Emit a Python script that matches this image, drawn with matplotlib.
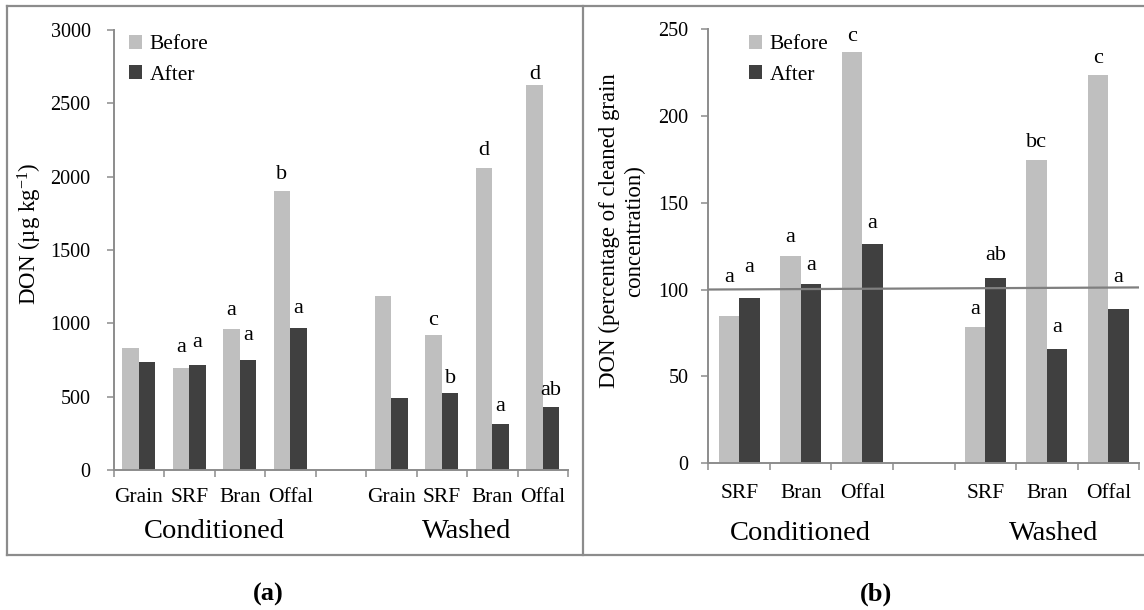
import matplotlib
matplotlib.use("Agg")
import matplotlib.pyplot as plt
from matplotlib.lines import Line2D
from matplotlib import transforms

plt.rcParams['font.family'] = ['Liberation Serif', 'DejaVu Serif']
plt.rcParams['mathtext.fontset'] = 'custom'
plt.rcParams['mathtext.rm'] = 'Liberation Serif'
plt.rcParams['mathtext.it'] = 'Liberation Serif:italic'

# ---------------- data: panel (a) ----------------
a_categories = ["Grain", "SRF", "Bran", "Offal"]
a_groups = ["Conditioned", "Washed"]
a_cond_before = [830, 695, 958, 1902]
a_cond_after = [738, 715, 751, 968]
a_wash_before = [1183, 923, 2056, 2624]
a_wash_after = [492, 524, 315, 431]
a_cond_before_lbl = ["", "a", "a", "b"]
a_cond_after_lbl = ["", "a", "a", "a"]
a_wash_before_lbl = ["", "c", "d", "d"]
a_wash_after_lbl = ["", "b", "a", "ab"]
a_yticks = [0, 500, 1000, 1500, 2000, 2500, 3000]

# ---------------- data: panel (b) ----------------
b_categories = ["SRF", "Bran", "Offal"]
b_groups = ["Conditioned", "Washed"]
b_cond_before = [84.7, 119.5, 237]
b_cond_after = [95, 103, 126.5]
b_wash_before = [78.3, 174.5, 223.5]
b_wash_after = [106.5, 65.5, 88.8]
b_cond_before_lbl = ["a", "a", "c"]
b_cond_after_lbl = ["a", "a", "a"]
b_wash_before_lbl = ["a", "bc", "c"]
b_wash_after_lbl = ["ab", "a", "a"]
b_yticks = [0, 50, 100, 150, 200, 250]
b_ref_line = [100, 101.2]

series_names = ["Before", "After"]

# label offsets above bar tops (placement only)
a_off_cb = [0, 138, 132, 111]
a_off_ca = [0, 154, 163, 135]
a_off_wb = [0, 93, 124, 72]
a_off_wa = [0, 100, 119, 114]
b_off_cb = [22, 10.5, 9]
b_off_ca = [17.6, 10.7, 11.5]
b_off_wb = [10.3, 10, 9.5]
b_off_wa = [13, 12.5, 18.4]

# ---------------- style ----------------
LIGHT = "#BFBFBF"
DARK = "#404040"
GRAY = "#8c8c8c"
W, H = 1144, 610
BW = 0.33
LBL_FS = 16
TICK_FS = 14.5
CAT_FS = 15.5
GRP_FS = 20.5


def fx(x):
    return x / W


def fy(y):
    return 1 - y / H


fig = plt.figure(figsize=(W / 100, H / 100), dpi=100)

axL = fig.add_axes([fx(113.5), fy(470), (568 - 113.5) / W, (470 - 30) / H])
axR = fig.add_axes([fx(708.5), fy(463), (1139 - 708.5) / W, (463 - 29.3) / H])


def style_axis(ax, nslots, yticks, ypad):
    ax.set_xlim(-0.5, nslots - 0.5)
    ax.set_ylim(yticks[0], yticks[-1])
    for s in ("top", "right"):
        ax.spines[s].set_visible(False)
    for s in ("left", "bottom"):
        ax.spines[s].set_color(GRAY)
        ax.spines[s].set_linewidth(1.4)
    ax.set_yticks(yticks)
    ax.set_yticklabels([str(t) for t in yticks])
    ax.tick_params(axis="y", which="major", length=5, width=1.1, color=GRAY,
                   labelsize=TICK_FS, pad=ypad, labelcolor="black")
    ax.set_xticks([])
    ax.set_xticks([i - 0.5 for i in range(nslots + 1)], minor=True)
    ax.tick_params(axis="x", which="minor", length=5, width=1.1, color=GRAY,
                   direction="out")
    ax.patch.set_alpha(0)


def draw_group(ax, start, before, after, lb, la, ob, oa):
    xs = [start + i for i in range(len(before))]
    h1 = ax.bar([x - BW / 2 for x in xs], before, width=BW, color=LIGHT,
                edgecolor="none", zorder=2)
    h2 = ax.bar([x + BW / 2 for x in xs], after, width=BW, color=DARK,
                edgecolor="none", zorder=2)
    for x, v, t, o in zip(xs, before, lb, ob):
        if t:
            ax.text(x - BW / 2, v + o, t, ha="center", va="center",
                    fontsize=LBL_FS, zorder=4)
    for x, v, t, o in zip(xs, after, la, oa):
        if t:
            ax.text(x + BW / 2, v + o, t, ha="center", va="center",
                    fontsize=LBL_FS, zorder=4)
    return h1, h2


# ----- panel (a) -----
style_axis(axL, 9, a_yticks, 11.5)
h1, h2 = draw_group(axL, 0, a_cond_before, a_cond_after,
                    a_cond_before_lbl, a_cond_after_lbl, a_off_cb, a_off_ca)
draw_group(axL, 5, a_wash_before, a_wash_after,
           a_wash_before_lbl, a_wash_after_lbl, a_off_wb, a_off_wa)

trL = transforms.blended_transform_factory(axL.transData, fig.transFigure)
for start in (0, 5):
    for i, c in enumerate(a_categories):
        fig.text(start + i, fy(497), c, transform=trL, ha="center", va="center",
                 fontsize=CAT_FS)
fig.text(1.5, fy(532), a_groups[0], transform=trL, ha="center", va="center",
         fontsize=GRP_FS)
fig.text(6.5, fy(532), a_groups[1], transform=trL, ha="center", va="center",
         fontsize=GRP_FS)

axL.legend([h1, h2], series_names, loc="upper left",
           bbox_to_anchor=(fx(129), fy(35)), bbox_transform=fig.transFigure,
           frameon=False, fontsize=15.5, handlelength=0.6, handleheight=0.6,
           handletextpad=0.35, labelspacing=0.5, borderpad=0, borderaxespad=0)

fig.text(fx(30), fy(234), r"DON (µg kg$^{\mathrm{-1}}$)", rotation=90,
         ha="center", va="center", fontsize=16.5)

# ----- panel (b) -----
style_axis(axR, 7, b_yticks, 9.5)
g1, g2 = draw_group(axR, 0, b_cond_before, b_cond_after,
                    b_cond_before_lbl, b_cond_after_lbl, b_off_cb, b_off_ca)
draw_group(axR, 4, b_wash_before, b_wash_after,
           b_wash_before_lbl, b_wash_after_lbl, b_off_wb, b_off_wa)
axR.plot([-0.5, 6.5], b_ref_line, color="#7f7f7f", lw=1.6, zorder=3,
         solid_capstyle="butt")

trR = transforms.blended_transform_factory(axR.transData, fig.transFigure)
for start in (0, 4):
    for i, c in enumerate(b_categories):
        fig.text(start + i, fy(493), c, transform=trR, ha="center", va="center",
                 fontsize=CAT_FS)
fig.text(1.0, fy(533), b_groups[0], transform=trR, ha="center", va="center",
         fontsize=GRP_FS)
fig.text(5.12, fy(533), b_groups[1], transform=trR, ha="center", va="center",
         fontsize=GRP_FS)

axR.legend([g1, g2], series_names, loc="upper left",
           bbox_to_anchor=(fx(749), fy(35)), bbox_transform=fig.transFigure,
           frameon=False, fontsize=15.5, handlelength=0.6, handleheight=0.6,
           handletextpad=0.35, labelspacing=0.5, borderpad=0, borderaxespad=0)

fig.text(fx(622), fy(231), "DON (percentage of cleaned grain\nconcentration)",
         rotation=90, ha="center", va="center", multialignment="center",
         fontsize=16.5, linespacing=1.25)

# ----- outer frame -----
FR = dict(transform=fig.transFigure, color=GRAY, lw=1.6)
fig.add_artist(Line2D([fx(7), fx(1144)], [fy(6), fy(6)], **FR))
fig.add_artist(Line2D([fx(7), fx(1144)], [fy(555), fy(555)], **FR))
fig.add_artist(Line2D([fx(7), fx(7)], [fy(6), fy(555)], **FR))
fig.add_artist(Line2D([fx(583), fx(583)], [fy(6), fy(555)], **FR))

# ----- panel captions -----
fig.text(fx(268), fy(594), "(a)", ha="center", va="center", fontsize=19,
         fontweight="bold")
fig.text(fx(876), fy(594), "(b)", ha="center", va="center", fontsize=19,
         fontweight="bold")

fig.savefig("out.png", dpi=100)
